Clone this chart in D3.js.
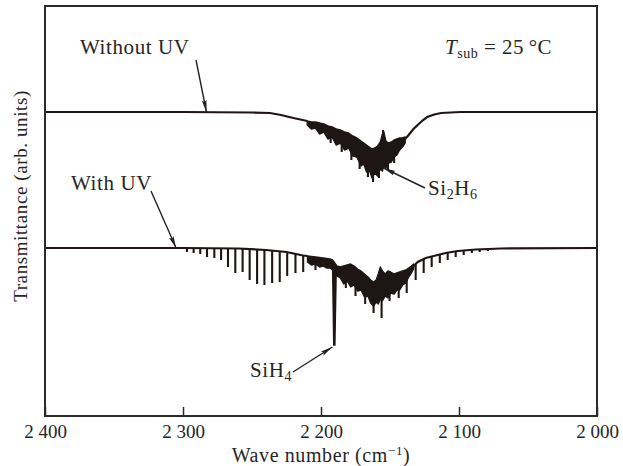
<!DOCTYPE html>
<html>
<head>
<meta charset="utf-8">
<script src="https://cdn.jsdelivr.net/npm/d3@7"></script>
<style>
  body { margin: 0; background: #fff; }
  text { font-family: "Liberation Serif", "DejaVu Serif", serif; fill: #262626; }
</style>
</head>
<body>
<svg id="chart" width="623" height="466"></svg>
<script>
// Wave number axis
const xTicks = [2400, 2300, 2200, 2100, 2000];
const xTickLabels = ["2 400", "2 300", "2 200", "2 100", "2 000"];

// ---- Without UV: transmittance (arb. units) vs wave number (cm-1) ----
const noUvHead = [[2400, 30.4], [2300, 30.4], [2250, 30.35], [2237, 30.3], [2229, 30.1], [2220, 29.8], [2215, 29.65], [2210, 29.5]];
// dense rotational structure: [wave number, upper edge, lower edge]
const noUvBand = [
  [2210, 29.5, 29.1], [2207, 29.4, 28.7], [2204, 29.4, 28.8], [2201, 29.3, 28.2], [2198, 29.2, 28.4],
  [2195, 29.0, 27.7], [2192, 28.9, 27.9], [2189, 28.7, 27.1], [2186, 28.6, 27.3], [2183, 28.4, 26.6],
  [2180, 28.3, 26.8], [2177, 28.0, 26.0], [2174, 27.8, 25.9], [2171, 27.5, 25.0], [2169, 27.3, 25.2],
  [2167, 27.1, 24.4], [2165, 26.9, 24.6], [2163, 26.7, 23.8], [2161, 26.8, 24.3], [2159, 27.0, 24.0],
  [2157, 27.4, 24.7], [2155.5, 28.2, 24.5], [2154.5, 28.4, 25.0], [2153, 27.5, 24.8], [2151, 27.3, 25.3],
  [2149, 27.4, 25.4], [2147, 27.6, 25.9], [2145, 27.7, 26.1], [2143, 27.8, 26.6], [2141, 27.8, 26.9],
  [2139, 27.9, 27.3]
];
const noUvTail = [[2139, 27.7], [2136.5, 28.1], [2133, 28.7], [2130, 29.1], [2126, 29.6], [2123, 29.9], [2118, 30.15], [2113, 30.3], [2099, 30.4], [2000, 30.4]];
// sharp lines reaching below the band: [wave number, top, bottom]
const noUvSpikes = [
  [2193, 28.5, 27.3], [2185, 27.8, 26.4], [2178, 27.0, 25.6], [2172, 26.6, 24.7], [2166, 25.8, 23.9],
  [2162.3, 25.6, 23.4], [2158, 25.6, 23.8], [2155, 26.0, 28.6], [2151.5, 26.2, 24.6], [2147, 26.6, 25.3]
];

// ---- With UV ----
const uvHead = [[2400, 16.8], [2300, 16.8], [2260, 16.75], [2240, 16.6], [2225, 16.4], [2213, 16.05], [2209.8, 16.0]];
const uvBand = [
  [2209.8, 16.0, 15.4], [2207, 15.95, 15.1], [2204, 15.9, 15.2], [2201, 15.85, 14.9], [2198.5, 15.8, 15.0],
  [2196, 15.75, 14.8], [2193.5, 15.7, 14.8], [2191.6, 15.6, 14.6], [2188.5, 15.0, 14.0], [2186, 14.9, 13.8],
  [2183.5, 15.0, 13.2], [2181, 15.1, 13.5], [2178.5, 15.2, 12.9], [2176, 15.0, 13.1], [2173.5, 14.7, 12.5],
  [2171, 14.5, 12.6], [2168.5, 14.2, 11.9], [2166, 13.9, 12.0], [2164, 13.6, 11.3], [2162, 13.4, 11.0],
  [2160, 13.6, 11.4], [2158.5, 14.2, 11.2], [2157, 14.9, 11.7], [2155.5, 14.5, 11.5], [2153.5, 14.2, 12.0],
  [2151.5, 14.5, 11.8], [2149.5, 14.4, 12.3], [2147, 14.2, 12.2], [2145, 14.3, 12.6], [2143, 14.4, 12.6],
  [2140.8, 14.5, 13.1], [2138.5, 14.6, 13.3], [2136.5, 14.8, 13.9], [2134.5, 15.0, 14.3], [2132.9, 15.2, 14.7]
];
const uvTail = [[2132.9, 15.0], [2129.9, 15.4], [2124.1, 15.8], [2118.3, 16.0], [2109.6, 16.3], [2100.9, 16.5], [2087.8, 16.65], [2069.7, 16.75], [2000, 16.8]];
// SiH4 Q branch
const uvQBranch = [[2191.6, 15.5], [2190.7, 7.1], [2190.0, 7.1], [2189.0, 14.9]];
// P branch lines: [wave number, top, bottom]
const uvPBranch = [
  [2297.1, 16.8, 16.4], [2292.3, 16.8, 16.3], [2287.5, 16.8, 16.2], [2282.6, 16.8, 15.9], [2277.3, 16.8, 15.8],
  [2272.4, 16.8, 15.6], [2267.4, 16.78, 14.9], [2262.1, 16.75, 14.3], [2256.8, 16.72, 14.4], [2251.7, 16.7, 13.6],
  [2246.3, 16.65, 13.2], [2241.0, 16.6, 13.1], [2235.4, 16.55, 13.3], [2229.9, 16.5, 13.4], [2224.5, 16.4, 14.0],
  [2218.5, 16.25, 14.3], [2212.9, 16.05, 14.4]
];
// lines inside the band and R branch: [wave number, top, bottom]
const uvRBranch = [
  [2204, 15.6, 14.6], [2182, 14.5, 12.8], [2175, 14.5, 12.0], [2168, 13.8, 11.2], [2161.9, 13.2, 10.3],
  [2156.1, 14.0, 9.8], [2150.3, 14.2, 11.5], [2143.7, 14.2, 11.8], [2137.9, 14.6, 12.3],
  [2131.4, 15.2, 13.6], [2125.6, 15.7, 14.3], [2119.8, 16.0, 14.9], [2113.9, 16.2, 15.3], [2108.2, 16.3, 15.6],
  [2102.4, 16.45, 15.9], [2096.6, 16.55, 16.1], [2090.7, 16.6, 16.3], [2085.0, 16.65, 16.4], [2079.1, 16.7, 16.5]
];

const svg = d3.select("#chart");
const x = d3.scaleLinear().domain([2400, 2000]).range([45, 597]);
const y = d3.scaleLinear().domain([0, 41]).range([416, 6]);

const ink = "#1e1614";
const line = d3.line().x(d => x(d[0])).y(d => y(d[1]));
const area = d3.area().x(d => x(d[0])).y0(d => y(d[2])).y1(d => y(d[1]));

function drawSpectrum(head, band, tail, lines) {
  const g = svg.append("g");
  g.append("path").attr("d", line(head)).attr("fill", "none").attr("stroke", ink).attr("stroke-width", 2.2);
  g.append("path").attr("d", area(band)).attr("fill", ink).attr("stroke", ink).attr("stroke-width", 1.4).attr("stroke-linejoin", "round");
  g.append("path").attr("d", line(tail)).attr("fill", "none").attr("stroke", ink).attr("stroke-width", 2.2);
  lines.forEach(set => {
    g.selectAll(null).data(set).join("line")
      .attr("x1", d => x(d[0])).attr("x2", d => x(d[0]))
      .attr("y1", d => y(d[1])).attr("y2", d => y(d[2]))
      .attr("stroke", ink).attr("stroke-width", 2.1);
  });
  return g;
}

drawSpectrum(noUvHead, noUvBand, noUvTail, [noUvSpikes]);
const gUv = drawSpectrum(uvHead, uvBand, uvTail, [uvPBranch, uvRBranch]);
gUv.append("path").attr("d", line(uvQBranch)).attr("fill", ink).attr("stroke", ink).attr("stroke-width", 1.6);

// frame
svg.append("rect").attr("x", 45).attr("y", 6).attr("width", 552).attr("height", 410)
  .attr("fill", "none").attr("stroke", "#2a2a2a").attr("stroke-width", 2);

// bottom axis with inward ticks
const axis = svg.append("g").attr("transform", "translate(0,416)")
  .call(d3.axisBottom(x).tickValues(xTicks).tickSize(-9).tickPadding(9)
    .tickFormat((d, i) => xTickLabels[i]));
axis.select(".domain").remove();
axis.selectAll(".tick line").attr("stroke", "#2a2a2a").attr("stroke-width", 1.5);
axis.selectAll(".tick text").attr("font-size", 19).attr("font-family", null).attr("fill", "#262626");

// axis titles
const xt = svg.append("text").attr("x", 321).attr("y", 462).attr("text-anchor", "middle")
  .attr("font-size", 20).attr("letter-spacing", 0.6);
xt.append("tspan").text("Wave number (cm");
xt.append("tspan").attr("font-size", 13).attr("dy", -7).text("\u22121");
xt.append("tspan").attr("dy", 7).text(")");

svg.append("text").attr("transform", "translate(27,196) rotate(-90)").attr("text-anchor", "middle")
  .attr("font-size", 19).attr("letter-spacing", 0.6).text("Transmittance (arb. units)");

// arrow heads
svg.append("defs").append("marker").attr("id", "head").attr("viewBox", "0 0 12 6")
  .attr("refX", 12).attr("refY", 3).attr("markerWidth", 12).attr("markerHeight", 6)
  .attr("markerUnits", "userSpaceOnUse").attr("orient", "auto")
  .append("path").attr("d", "M0,0.6 L12,3 L0,5.4 L2,3 Z").attr("fill", "#222");

function callout(label, tx, ty, x0, y0, wTip, vTip) {
  svg.append("line").attr("x1", x0).attr("y1", y0).attr("x2", x(wTip)).attr("y2", y(vTip))
    .attr("stroke", "#222").attr("stroke-width", 1.4).attr("marker-end", "url(#head)");
  const t = svg.append("text").attr("x", tx).attr("y", ty).attr("font-size", 21).attr("letter-spacing", 0.6);
  label.forEach(p => {
    const s = t.append("tspan").text(p.t);
    if (p.sub) s.attr("font-size", 14).attr("dy", 4);
    if (p.up) s.attr("dy", -4);
  });
}

callout([{t: "Without UV"}], 80, 54, 196, 60, 2283, 30.4);
callout([{t: "With UV"}], 71, 190, 151, 191, 2305, 16.8);
callout([{t: "Si"}, {t: "2", sub: true}, {t: "H", up: true}, {t: "6", sub: true}], 428, 195, 425, 188, 2154.6, 24.8);
callout([{t: "SiH"}, {t: "4", sub: true}], 250, 377, 293, 372, 2191.8, 6.9);

// substrate temperature
const ts = svg.append("text").attr("x", 445).attr("y", 54).attr("font-size", 21).attr("letter-spacing", 0.5);
ts.append("tspan").attr("font-style", "italic").text("T");
ts.append("tspan").attr("font-size", 14).attr("dy", 4).text("sub");
ts.append("tspan").attr("dy", -4).text(" = 25\u2009\u00b0C");
</script>
</body>
</html>
